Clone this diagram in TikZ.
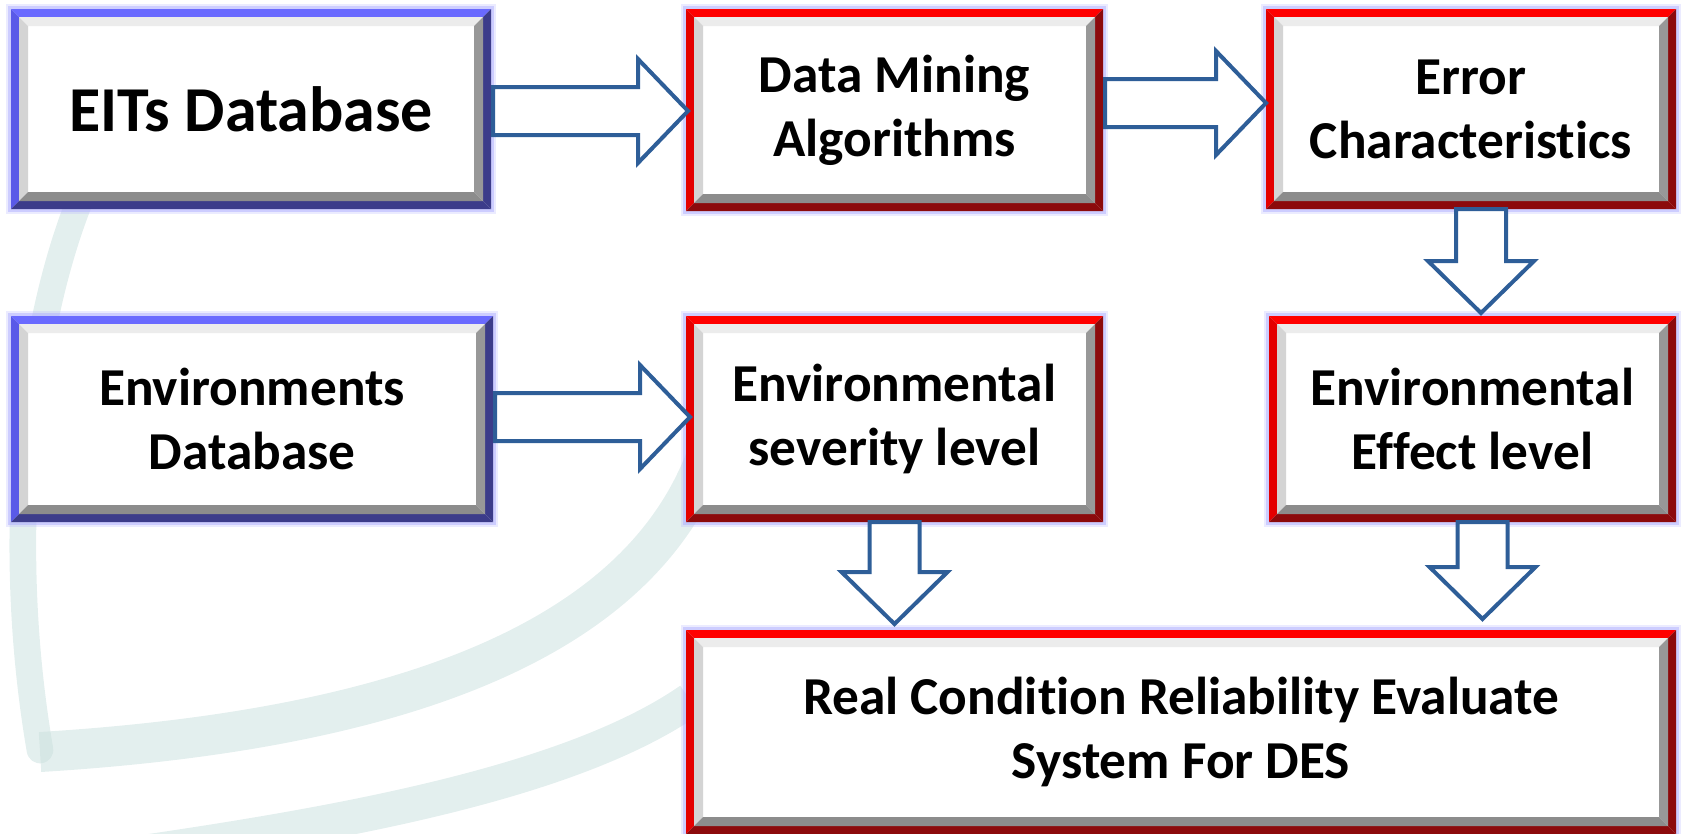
\documentclass[tikz,border=0pt]{standalone}
\usepackage{fontspec}
\setmainfont{Carlito}[Ligatures=NoCommon]
\usetikzlibrary{calc}

\definecolor{redtop}{RGB}{255,0,0}
\definecolor{redleft}{RGB}{228,0,0}
\definecolor{reddark}{RGB}{140,10,12}
\definecolor{bluetop}{RGB}{106,106,255}
\definecolor{blueleft}{RGB}{90,90,232}
\definecolor{bluedark}{RGB}{60,60,138}
\definecolor{bevtop}{RGB}{236,236,236}
\definecolor{bevleft}{RGB}{212,212,212}
\definecolor{bevright}{RGB}{152,152,152}
\definecolor{bevbottom}{RGB}{140,140,140}
\definecolor{glowc}{RGB}{175,175,255}
\definecolor{arrowc}{RGB}{46,94,152}
\definecolor{wmark}{RGB}{200,223,221}

% one ring of the frame: node, inner offset, outer offset, top, left, right, bottom
\newcommand{\ring}[7]{%
  \fill[#4] ($(#1.north west)+(#2,#2)$) -- ($(#1.north east)+(-#2,#2)$) -- ($(#1.north east)+(-#3,#3)$) -- ($(#1.north west)+(#3,#3)$) -- cycle;
  \fill[#5] ($(#1.north west)+(#2,#2)$) -- ($(#1.north west)+(#3,#3)$) -- ($(#1.south west)+(#3,-#3)$) -- ($(#1.south west)+(#2,-#2)$) -- cycle;
  \fill[#6] ($(#1.north east)+(-#2,#2)$) -- ($(#1.south east)+(-#2,-#2)$) -- ($(#1.south east)+(-#3,-#3)$) -- ($(#1.north east)+(-#3,#3)$) -- cycle;
  \fill[#7] ($(#1.south west)+(#2,-#2)$) -- ($(#1.south east)+(-#2,-#2)$) -- ($(#1.south east)+(-#3,-#3)$) -- ($(#1.south west)+(#3,-#3)$) -- cycle;
}
\newcommand{\redframe}[1]{\ring{#1}{0}{8}{redtop}{redleft}{reddark}{reddark}\ring{#1}{8}{17}{bevtop}{bevleft}{bevright}{bevbottom}}
\newcommand{\blueframe}[1]{\ring{#1}{0}{8}{bluetop}{blueleft}{bluedark}{bluedark}\ring{#1}{8}{17}{bevtop}{bevleft}{bevright}{bevbottom}}

% block arrow to the right: from, to, shift y, tip overlap
\newcommand{\harrow}[4]{%
  \coordinate (hs) at ($(#1.east)+(2,#3)$);
  \coordinate (hb) at (hs -| #2.west);
  \coordinate (ht) at ($(hb)+(#4,0)$);
  \draw[blockarr] ($(hs)+(0,-24)$) -- ($(ht)+(-50,-24)$) -- ($(ht)+(-50,-52)$) -- (ht) -- ($(ht)+(-50,52)$) -- ($(ht)+(-50,24)$) -- ($(hs)+(0,24)$) -- cycle;
}
% block arrow downwards: from, to, shift x, tip offset
\newcommand{\varrow}[4]{%
  \coordinate (vs) at ($(#1.south)+(#3,0)$);
  \coordinate (vb) at (vs |- #2.north);
  \coordinate (vt) at ($(vb)+(0,#4)$);
  \draw[blockarr] ($(vs)+(-25,0)$) -- ($(vt)+(-25,-52)$) -- ($(vt)+(-53,-52)$) -- (vt) -- ($(vt)+(53,-52)$) -- ($(vt)+(25,-52)$) -- ($(vs)+(25,0)$) -- cycle;
}

\begin{document}
\begin{tikzpicture}[x=0.75pt,y=0.75pt,yscale=-1,xscale=1,
  panel/.style={rectangle, fill=white, inner sep=0pt, outer sep=0pt, align=center,
    font=\fontsize{40}{48}\selectfont\bfseries, text=black,
    preaction={draw=glowc, line width=7pt, opacity=0.25},
    preaction={draw=glowc, line width=4pt, opacity=0.5}},
  blockarr/.style={draw=arrowc, fill=white, line width=3pt, line join=miter}]
\useasboundingbox (0,0) rectangle (1682,833);

%Shape: watermark arcs
\draw [wmark, line width=20pt, opacity=0.5, line cap=round] (80,200) .. controls (28,330) and (4,540) .. (40,750) ;
\draw [wmark, line width=30pt, opacity=0.5] (712,440) .. controls (650,640) and (400,730) .. (40,752) ;
\draw [wmark, line width=26pt, opacity=0.5] (690,700) .. controls (560,790) and (300,830) .. (90,860) ;

% Text Node
\node [panel, minimum width=360pt, minimum height=150pt, font=\fontsize{48}{56}\selectfont\bfseries] (eits) at (251,109) {EITs Database};
% Text Node
\node [panel, minimum width=312.75pt, minimum height=151.5pt] (mining) at (894.5,110) {Data Mining\\Algorithms};
% Text Node
\node [panel, minimum width=307.5pt, minimum height=150pt] (error) at (1471,109) {Error\\Characteristics};
% Text Node
\node [panel, minimum width=361.5pt, minimum height=154.5pt] (envdb) at (252,419) {Environments\\Database};
% Text Node
\node [panel, minimum width=312.75pt, minimum height=154.5pt] (severity) at (894.5,419) {Environmental\\severity level};
% Text Node
\node [panel, minimum width=305.25pt, minimum height=154.5pt] (effect) at (1472.5,419) {Environmental\\Effect level};
% Text Node
\node [panel, minimum width=742.5pt, minimum height=153pt] (reliab) at (1181,732) {Real Condition Reliability Evaluate\\System For DES};

%Shape: frames
\blueframe{eits}
\blueframe{envdb}
\redframe{mining}
\redframe{error}
\redframe{severity}
\redframe{effect}
\redframe{reliab}

%Shape: block arrows
\harrow{eits}{mining}{2}{2}
\harrow{mining}{error}{-7}{0}
\harrow{envdb}{severity}{-2}{4}
\varrow{error}{effect}{10}{-3}
\varrow{severity}{reliab}{0}{-6}
\varrow{effect}{reliab}{10}{-11}

\end{tikzpicture}
\end{document}
